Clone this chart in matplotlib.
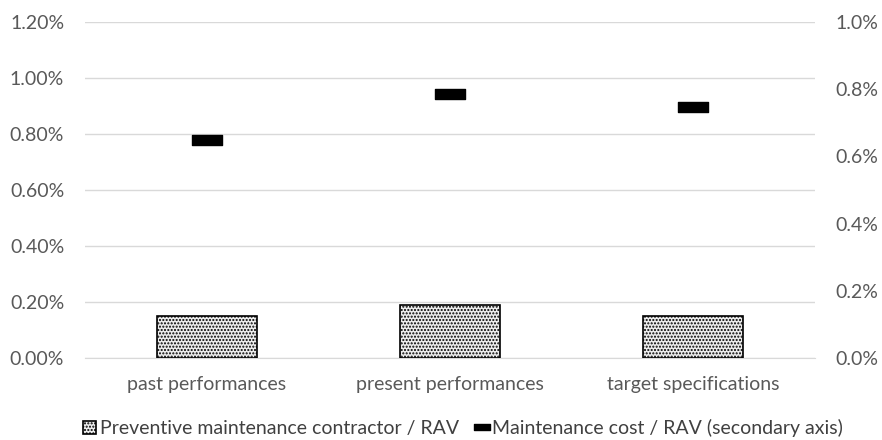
import numpy as np
import matplotlib.pyplot as plt
from matplotlib.path import Path
from matplotlib.lines import Line2D
from matplotlib.ticker import FuncFormatter

plt.rcParams['font.family'] = ['Lato', 'DejaVu Sans']
plt.rcParams['hatch.color'] = '#7f7f7f'
plt.rcParams['hatch.linewidth'] = 1.0

categories = ['past performances', 'present performances', 'target specifications']
contractor_share = [0.15, 0.19, 0.15]   # % of RAV, primary axis
maintenance_cost = [0.65, 0.786, 0.747]  # % of RAV, secondary axis

bar_label = 'Preventive maintenance contractor / RAV'
line_label = 'Maintenance cost / RAV (secondary axis)'

fig = plt.figure(figsize=(8.82, 4.4), dpi=100)
ax = fig.add_axes([0.0964, 0.1864, 0.8276, 0.7636])
ax2 = ax.twinx()

x = np.arange(len(categories))
ax.bar(x, contractor_share, width=0.41, facecolor='#ededed', edgecolor='black',
       linewidth=1.2, hatch='.....', label=bar_label, zorder=3)

# dash marker like excel
dash = Path([(-1.5, -0.5), (1.5, -0.5), (1.5, 0.5), (-1.5, 0.5), (-1.5, -0.5)],
            [Path.MOVETO, Path.LINETO, Path.LINETO, Path.LINETO, Path.CLOSEPOLY])
ax2.plot(x, maintenance_cost, linestyle='none', marker=dash, markersize=21,
         color='black', zorder=4)

ax.set_xlim(-0.5, 2.5)
ax.set_ylim(0, 1.2)
ax.set_yticks(np.arange(0, 1.21, 0.2))
ax.yaxis.set_major_formatter(FuncFormatter(lambda v, p: f'{v:.2f}%'))
ax2.set_ylim(0, 1.0)
ax2.set_yticks(np.arange(0, 1.01, 0.2))
ax2.yaxis.set_major_formatter(FuncFormatter(lambda v, p: f'{v:.1f}%'))

ax.set_xticks(x)
ax.set_xticklabels(categories)
ax.grid(axis='y', color='#d9d9d9', linewidth=1.0, zorder=0)
ax.set_axisbelow(True)

for a in (ax, ax2):
    for s in a.spines.values():
        s.set_visible(False)
    a.tick_params(length=0, labelsize=14, labelcolor='#595959')
ax.spines['bottom'].set_visible(True)
ax.spines['bottom'].set_color('#d9d9d9')
ax.tick_params(axis='y', pad=15)
ax2.tick_params(axis='y', pad=15)
ax.tick_params(axis='x', pad=13)

h1, l1 = ax.get_legend_handles_labels()
dash_handle = Line2D([], [], linestyle='none', marker=dash, markersize=11, color='black')
fig.legend(h1 + [dash_handle], l1 + [line_label], loc='center', bbox_to_anchor=(0.525, 0.027),
           ncol=2, frameon=False, fontsize=14, handlelength=0.7, handleheight=0.7,
           handletextpad=0.2, columnspacing=0.8, labelcolor='#404040')

fig.savefig('out.png', dpi=100)
